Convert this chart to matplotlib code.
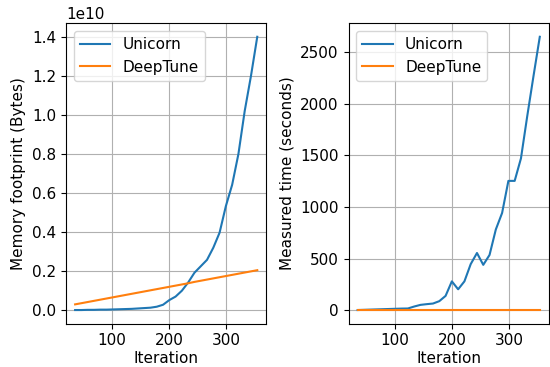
import matplotlib
matplotlib.use("Agg")
import matplotlib.pyplot as plt

# iterations (~11 apart)
iterations = [35, 46, 57, 68, 79, 90, 101, 112, 123, 134, 145, 156, 167, 178, 189,
              200, 211, 222, 233, 244, 255, 266, 277, 288, 299, 310, 321, 332, 343, 354]

# memory footprint in units of 1e10 bytes
unicorn_mem = [0.001, 0.001, 0.002, 0.002, 0.003, 0.003, 0.004, 0.005, 0.006, 0.007,
               0.009, 0.011, 0.013, 0.018, 0.028, 0.052, 0.070, 0.100, 0.142, 0.192,
               0.225, 0.258, 0.320, 0.397, 0.533, 0.642, 0.800, 1.020, 1.200, 1.400]
deeptune_mem = [0.030, 0.036, 0.042, 0.048, 0.054, 0.060, 0.066, 0.072, 0.078, 0.084,
                0.090, 0.096, 0.102, 0.108, 0.114, 0.120, 0.126, 0.132, 0.138, 0.145,
                0.151, 0.157, 0.163, 0.169, 0.175, 0.181, 0.187, 0.193, 0.199, 0.205]

# measured time in seconds
unicorn_time = [1, 3, 5, 7, 9, 11, 13, 15, 16, 35,
                51, 58, 64, 87, 138, 279, 202, 279, 446, 554,
                439, 535, 782, 942, 1253, 1253, 1471, 1880, 2270, 2650]
deeptune_time = [1, 1, 1, 1, 1, 1, 1, 1, 1, 1,
                 1, 1, 1, 1, 1, 1, 1, 1, 1, 1,
                 1, 1, 1, 1, 1, 1, 1, 1, 1, 1]

plt.rcParams["font.size"] = 11

fig, (ax1, ax2) = plt.subplots(1, 2, figsize=(5.5, 3.67), dpi=100)
fig.subplots_adjust(left=0.12, right=0.998, bottom=0.118, top=0.937, wspace=0.41)

ax1.plot(iterations, [v * 1e10 for v in unicorn_mem], label="Unicorn")
ax1.plot(iterations, [v * 1e10 for v in deeptune_mem], label="DeepTune")
ax1.set_xlabel("Iteration", labelpad=2)
ax1.set_ylabel("Memory footprint (Bytes)")
ax1.grid(True)
ax1.legend(loc="upper left")

ax2.plot(iterations, unicorn_time, label="Unicorn")
ax2.plot(iterations, deeptune_time, label="DeepTune")
ax2.set_xlabel("Iteration", labelpad=2)
ax2.set_ylabel("Measured time (seconds)")
ax2.grid(True)
ax2.legend(loc="upper left")

fig.savefig("out.png")
